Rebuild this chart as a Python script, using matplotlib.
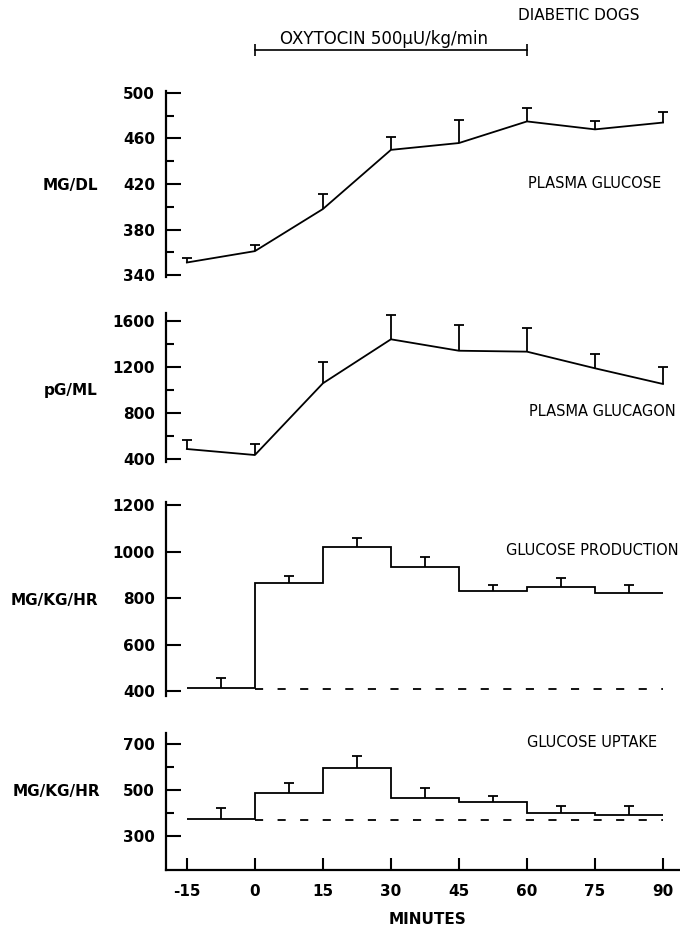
import numpy as np
import matplotlib.pyplot as plt
from matplotlib.transforms import blended_transform_factory

# minutes
times = [-15, 0, 15, 30, 45, 60, 75, 90]
edges = [-15, 0, 15, 30, 45, 60, 75, 90]

glucose = [351, 361, 398, 450, 456, 475, 468, 474]
glucose_err = [4, 5, 13, 11, 20, 12, 7, 9]

glucagon = [489, 437, 1058, 1439, 1340, 1332, 1188, 1052]
glucagon_err = [78, 95, 187, 211, 223, 202, 121, 150]

production = [414, 867, 1021, 933, 832, 850, 821]
production_err = [45, 28, 39, 43, 25, 38, 36]
production_base = 410

uptake = [374, 486, 594, 464, 449, 399, 391]
uptake_err = [46, 43, 55, 46, 26, 31, 41]
uptake_base = 370

xticks = [-15, 0, 15, 30, 45, 60, 75, 90]

W, H = 680, 930
fig = plt.figure(figsize=(W / 100, H / 100), dpi=100)

x0 = 166 / W
xw = (680 - 166) / W
xlim = (-19.6, 93.75)


def mkax(top_px, bot_px):
    return fig.add_axes([x0, 1 - bot_px / H, xw, (bot_px - top_px) / H])


def style(ax, ylim, major, minor, bottom=False):
    ax.set_xlim(*xlim)
    ax.set_ylim(*ylim)
    for s in ["top", "right"]:
        ax.spines[s].set_visible(False)
    ax.spines["left"].set_linewidth(1.6)
    ax.set_yticks(major)
    ax.set_yticks(minor, minor=True)
    ax.tick_params(axis="y", which="major", direction="in", length=11, width=1.5, pad=8,
                   labelsize=11)
    ax.tick_params(axis="y", which="minor", direction="in", length=6, width=1.5)
    for lab in ax.get_yticklabels():
        lab.set_fontweight("bold")
    if bottom:
        ax.spines["bottom"].set_linewidth(1.6)
        ax.set_xticks(xticks)
        ax.set_xticklabels([str(t) for t in xticks], fontweight="bold", fontsize=11)
        ax.tick_params(axis="x", direction="in", length=9, width=1.5, pad=10)
    else:
        ax.spines["bottom"].set_visible(False)
        ax.set_xticks([])


def upper_err(ax, x, y, e):
    line, caps, bars = ax.errorbar(x, y, yerr=[np.zeros(len(e)), e], fmt="none",
                                   ecolor="black", elinewidth=1.3, capsize=3.5, capthick=1.3)
    caps[0].set_visible(False)


lw = 1.3
dash = (0, (4.5, 8))

# plasma glucose
ax1 = mkax(90.7, 277.3)
ax1.plot(times, glucose, color="black", lw=lw)
upper_err(ax1, times, glucose, glucose_err)
style(ax1, (338, 502), [340, 380, 420, 460, 500], [360, 400, 440, 480])

# plasma glucagon
ax2 = mkax(313.2, 461.6)
ax2.plot(times, glucagon, color="black", lw=lw)
upper_err(ax2, times, glucagon, glucagon_err)
style(ax2, (380, 1665), [400, 800, 1200, 1600], [600, 1000, 1400])

mids = [(edges[i] + edges[i + 1]) / 2 for i in range(len(edges) - 1)]

# glucose production
ax3 = mkax(502, 695.9)
ax3.stairs(production, edges, baseline=None, color="black", lw=lw)
upper_err(ax3, mids, production, production_err)
ax3.hlines(production_base, 0, 90, colors="black", linestyles=dash, lw=lw)
style(ax3, (381, 1213), [400, 600, 800, 1000, 1200], [])

# glucose uptake
ax4 = mkax(733, 870)
ax4.stairs(uptake, edges, baseline=None, color="black", lw=lw)
upper_err(ax4, mids, uptake, uptake_err)
ax4.hlines(uptake_base, 0, 90, colors="black", linestyles=dash, lw=lw)
style(ax4, (152, 748), [300, 500, 700], [400, 600], bottom=True)

# unit labels
unit_kw = dict(ha="right", va="center", fontsize=11, fontweight="bold")
fig.text(98 / W, 1 - 185 / H, "MG/DL", **unit_kw)
fig.text(98 / W, 1 - 390 / H, "pG/ML", **unit_kw)
fig.text(98 / W, 1 - 600 / H, "MG/KG/HR", **unit_kw)
fig.text(100 / W, 1 - 791 / H, "MG/KG/HR", **unit_kw)

# panel names
name_kw = dict(ha="left", va="center", fontsize=10.5)
fig.text(528 / W, 1 - 184 / H, "PLASMA GLUCOSE", **name_kw)
fig.text(529 / W, 1 - 412 / H, "PLASMA GLUCAGON", **name_kw)
fig.text(506 / W, 1 - 550 / H, "GLUCOSE PRODUCTION", **name_kw)
fig.text(527 / W, 1 - 742 / H, "GLUCOSE UPTAKE", **name_kw)

fig.text(428 / W, 1 - 919 / H, "MINUTES", ha="center", va="center", fontsize=11, fontweight="bold")

# infusion bracket
tr = blended_transform_factory(ax1.transData, fig.transFigure)
yb = 1 - 50 / H
ax1.plot([0, 60], [yb, yb], color="black", lw=1.2, transform=tr, clip_on=False)
ax1.plot([0, 60], [yb, yb], ls="none", marker="|", ms=8, mew=1.2, color="black",
         transform=tr, clip_on=False)
fig.text(280 / W, 1 - 39 / H, "OXYTOCIN 500\u03bcU/kg/min", ha="left", va="center", fontsize=12)
fig.text(518 / W, 1 - 16 / H, "DIABETIC DOGS", ha="left", va="center", fontsize=11)

fig.savefig("out.png", dpi=100)
